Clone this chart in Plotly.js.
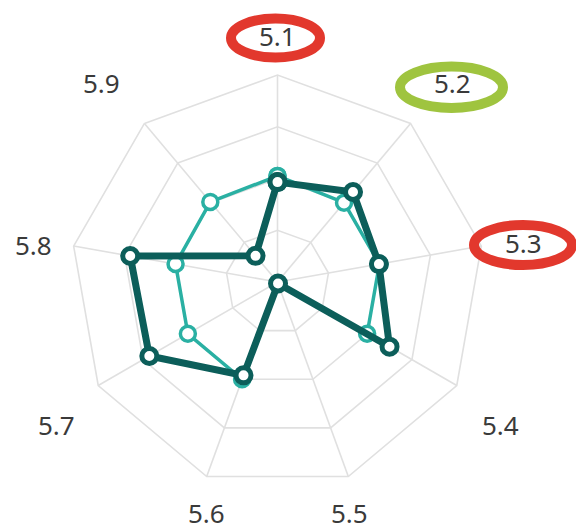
<!DOCTYPE html>
<html>
<head>
<meta charset="utf-8">
<script src="https://cdn.plot.ly/plotly-3.0.1.min.js"></script>
<style>html,body{margin:0;padding:0;background:#fff;}#chart{width:576px;height:532px;}</style>
</head>
<body>
<div id="chart"></div>
<script>
// Categories (clockwise from top)
const categories = ['5.1', '5.2', '5.3', '5.4', '5.5', '5.6', '5.7', '5.8', '5.9'];
// Series values (radial scale 0–4)
const seriesLight = [2.05, 2.0, 2.0, 2.0, 0.03, 2.0, 2.0, 2.0, 2.02];
const seriesDark = [1.93, 2.27, 1.99, 2.5, 0.03, 1.92, 2.86, 2.89, 0.66];
// Highlighted tick labels and their ring colours
const highlightLabels = ['5.1', '5.2', '5.3'];
const highlightColors = ['#e2382d', '#9fc43f', '#e2382d'];

const W = 576, H = 532;
const close = a => a.concat([a[0]]);

const traceLight = {
  type: 'scatterpolar', mode: 'lines+markers',
  r: close(seriesLight), theta: close(categories),
  line: {color: '#2ab0a3', width: 3.5},
  marker: {size: 15, color: '#ffffff', line: {color: '#2ab0a3', width: 3.5}},
  hoverinfo: 'skip', showlegend: false
};
const traceDark = {
  type: 'scatterpolar', mode: 'lines+markers',
  r: close(seriesDark), theta: close(categories),
  line: {color: '#0c5e5a', width: 7},
  marker: {size: 15, color: '#ffffff', line: {color: '#0c5e5a', width: 5}},
  hoverinfo: 'skip', showlegend: false
};

// label placement (pixel centres) for the angular category labels
const labelCenters = {
  '5.1': [277.5, 37.5], '5.2': [452.5, 84.5], '5.3': [523, 245],
  '5.4': [500, 426], '5.5': [349, 514.5], '5.6': [206.5, 514.5],
  '5.7': [56, 426], '5.8': [33, 246.5], '5.9': [101.5, 85]
};
const annotations = categories.map(c => ({
  text: c, xref: 'paper', yref: 'paper',
  x: labelCenters[c][0] / W, y: 1 - (labelCenters[c][1] - 1.5) / H,
  xanchor: 'center', yanchor: 'middle', showarrow: false,
  font: {family: 'Noto Sans', size: 26, color: '#3a3a3a'}
}));

// ellipse boxes around highlighted labels (pixel centre-line boxes)
const ellipseBoxes = {
  '5.1': [231, 18.5, 320, 57.5],
  '5.2': [400, 66.5, 503, 108],
  '5.3': [474, 225, 572, 265]
};
const shapes = highlightLabels.map((lab, i) => {
  const b = ellipseBoxes[lab];
  return {
    type: 'circle', xref: 'paper', yref: 'paper',
    x0: b[0] / W, x1: b[2] / W, y0: 1 - b[3] / H, y1: 1 - b[1] / H,
    line: {color: highlightColors[i], width: 10}, layer: 'above'
  };
});

const cx = 277.5, cy = 282, R = 207;
const layout = {
  width: W, height: H, autosize: false,
  margin: {l: 0, r: 0, t: 0, b: 0, pad: 0},
  paper_bgcolor: '#ffffff', plot_bgcolor: '#ffffff',
  showlegend: false,
  polar: {
    domain: {x: [(cx - R) / W, (cx + R) / W], y: [1 - (cy + R) / H, 1 - (cy - R) / H]},
    gridshape: 'linear',
    bgcolor: '#ffffff',
    radialaxis: {
      range: [0, 4], dtick: 1, showticklabels: false, ticks: '',
      showline: false, gridcolor: '#e0e0e0', gridwidth: 1.6
    },
    angularaxis: {
      type: 'category', categoryarray: categories,
      rotation: 90, direction: 'clockwise',
      showline: true, linecolor: '#e0e0e0', linewidth: 1.6,
      gridcolor: '#e0e0e0', gridwidth: 1.6,
      ticks: '', showticklabels: false
    }
  },
  annotations: annotations,
  shapes: shapes
};

Plotly.newPlot('chart', [traceLight, traceDark], layout, {staticPlot: true, displayModeBar: false});
</script>
</body>
</html>
